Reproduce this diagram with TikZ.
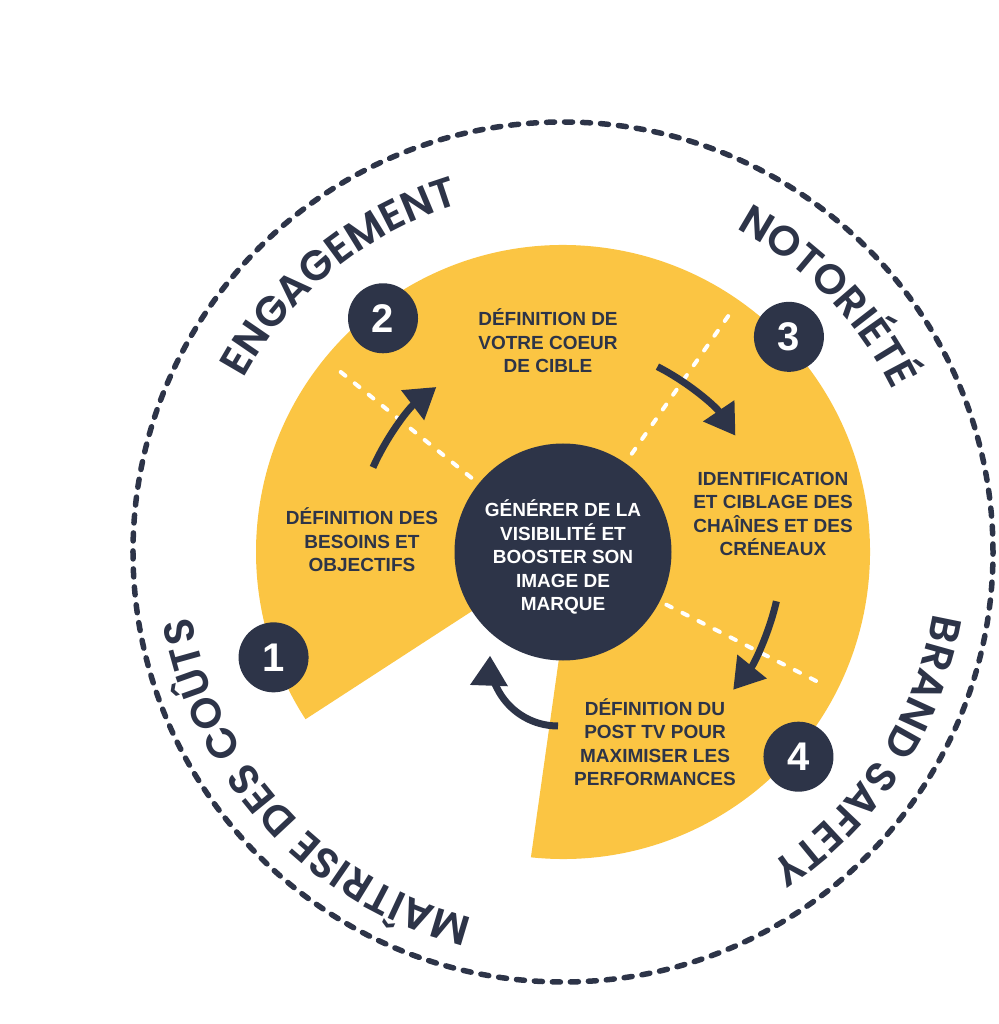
\documentclass[tikz,border=0pt]{standalone}
\usepackage{fontspec}
\setmainfont{Liberation Sans}
\newfontfamily\arcfont{Poppins SemiBold}[LetterSpace=4]
\usepackage{tikz}
\usetikzlibrary{arrows.meta, decorations.text}
\definecolor{cnavy}{RGB}{45,52,72}
\definecolor{cyellow}{RGB}{251,197,67}

\begin{document}
\begin{tikzpicture}[x=1pt, y=1pt,
  num/.style={circle, fill=cnavy, text=white, minimum size=70, inner sep=0pt, font=\fontsize{40}{40}\selectfont\bfseries},
  stepbox/.style={align=center, text=cnavy, inner sep=0pt, font=\fontsize{19}{23.5}\selectfont\bfseries},
  divider/.style={white, line width=4, dash pattern=on 6 off 12, line cap=round},
  cycarrow/.style={cnavy, line width=7, -{Triangle[length=30pt, width=36pt]}},
  ring/.style={decorate, decoration={text along path, text align=center, text color=cnavy}}]
  \useasboundingbox (-563,-472) rectangle (435,552);
  % outer ring
  \draw[cnavy, line width=5.5, dash pattern=on 8 off 10, line cap=round] (0,0) circle[radius=430];
  % yellow disc with the open wedge
  \fill[cyellow] (11,0) -- (-96:307) arc[start angle=-96, end angle=213, radius=307] -- (0,0) -- cycle;
  \draw[divider] (141:118) -- (141:292);
  \draw[divider] (55:120) -- (55:292);
  \draw[divider] (-27:116) -- (-27:294);
  % centre
  \node[circle, fill=cnavy, minimum size=217, inner sep=0pt] (ctr) at (0,0) {};
  \node[stepbox, text=white] (ctrtxt) at (0,-5) {G\'EN\'ERER DE LA\\VISIBILIT\'E ET\\BOOSTER SON\\IMAGE DE\\MARQUE};
  % steps
  \node[num] (n1) at (200:308) {1};
  \node[num] (n2) at (127.6:295) {2};
  \node[num] (n3) at (43.6:312) {3};
  \node[num] (n4) at (-41:312) {4};
  \node[stepbox] (t1) at (-201,12) {D\'EFINITION DES\\BESOINS ET\\OBJECTIFS};
  \node[stepbox] (t2) at (-15,211) {D\'EFINITION DE\\VOTRE COEUR\\DE CIBLE};
  \node[stepbox] (t3) at (210,38) {IDENTIFICATION\\ET CIBLAGE DES\\CHA\^INES ET DES\\CR\'ENEAUX};
  \node[stepbox] (t4) at (92,-190) {D\'EFINITION DU\\POST TV POUR\\MAXIMISER LES\\PERFORMANCES};
  % cycle arrows
  \coordinate (a1) at (156:208);
  \coordinate (a2) at (63:208);
  \coordinate (a3) at (-13:219);
  \coordinate (a4) at (-5,-174);
  \draw[cycarrow] (a1) arc[start angle=156, end angle=127.5, radius=208];
  \draw[cycarrow] (a2) arc[start angle=63, end angle=34, radius=208];
  \draw[cycarrow] (a3) arc[start angle=-13, end angle=-39, radius=219];
  \draw[cycarrow] (a4) arc[start angle=270, end angle=178, radius=68];
  % ring labels
  \path[ring, decoration={text={|\arcfont\fontsize{42}{42}\selectfont|ENGAGEMENT}}] (185:363) arc[start angle=185, end angle=73, radius=363];
  \path[ring, decoration={text={|\arcfont\fontsize{42}{42}\selectfont|NOTORIÉTÉ}}] (100:367) arc[start angle=100, end angle=-12, radius=367];
  \path[ring, decoration={text={|\arcfont\fontsize{42}{42}\selectfont|BRAND SAFETY}}] (30:375) arc[start angle=30, end angle=-96, radius=375];
  \path[ring, decoration={text={|\arcfont\fontsize{42}{42}\selectfont|MAÎTRISE DES COÛTS}}] (300:377) arc[start angle=300, end angle=146, radius=377];
\end{tikzpicture}
\end{document}
